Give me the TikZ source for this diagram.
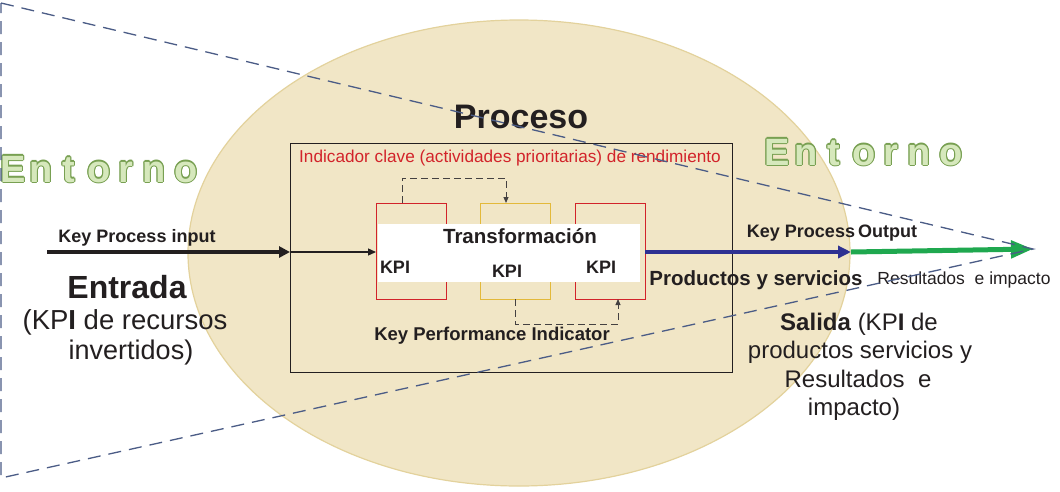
\documentclass[tikz,border=0pt]{standalone}
\usepackage{fontspec}
\setmainfont{Liberation Sans}
\usetikzlibrary{shapes.geometric,arrows.meta,calc}
\definecolor{ellfill}{HTML}{F1E6C6}
\definecolor{elldraw}{HTML}{E3D29C}
\definecolor{dashc}{HTML}{4B5C86}
\definecolor{kred}{HTML}{D2232A}
\definecolor{kyel}{HTML}{E3B93A}
\definecolor{outblue}{HTML}{2E3192}
\definecolor{outgreen}{HTML}{1FA84F}
\definecolor{txt}{HTML}{231F20}
\definecolor{edark}{HTML}{78A052}
\definecolor{elight}{HTML}{D6E8BC}
\newcommand{\fsz}[1]{\fontsize{#1}{#1}\selectfont}
\newcommand{\olt}[1]{\leavevmode
  \rlap{\color{edark}\kern-1.1pt #1}\rlap{\color{edark}\kern1.1pt #1}%
  \rlap{\color{edark}\raisebox{1.1pt}{#1}}\rlap{\color{edark}\raisebox{-1.1pt}{#1}}%
  \rlap{\color{edark}\kern-0.8pt\raisebox{0.8pt}{#1}}\rlap{\color{edark}\kern0.8pt\raisebox{0.8pt}{#1}}%
  \rlap{\color{edark}\kern-0.8pt\raisebox{-0.8pt}{#1}}\rlap{\color{edark}\kern0.8pt\raisebox{-0.8pt}{#1}}%
  {\color{elight}#1}}
\begin{document}
\begin{tikzpicture}[x=1pt,y=-1pt,
  every node/.style={inner sep=0pt, outer sep=0pt, text=txt},
  kbox/.style={line width=1pt, minimum width=70pt, minimum height=96pt},
  ent/.style={anchor=base, font=\bfseries\fsz{38}},
  lbl/.style={anchor=base},
  dconn/.style={draw=txt!85, line width=1pt, dash pattern=on 7pt off 4pt, -{Triangle[length=6pt,width=5pt]}},
  tri/.style={draw=dashc, line width=1.3pt, dash pattern=on 13pt off 8pt}]
\useasboundingbox (0,0) rectangle (1060,491);
\fill[white] (0,0) rectangle (1060,491);

% Entorno (left)
\node[ent] (eL1) at (13,182) {\olt{E}};
\node[ent] (eL2) at (41,182) {\olt{n}};
\node[ent] (eL3) at (69,182) {\olt{t}};
\node[ent] (eL4) at (99,182) {\olt{o}};
\node[ent] (eL5) at (126,182) {\olt{r}};
\node[ent] (eL6) at (154,182) {\olt{n}};
\node[ent] (eL7) at (186,182) {\olt{o}};

% ellipse
\node[ellipse, fill=ellfill, draw=elldraw, line width=1.2pt, minimum width=662pt, minimum height=466pt] (ell) at (519,253) {};

% Entorno (right)
\node[ent] (eR1) at (777,165) {\olt{E}};
\node[ent] (eR2) at (806,165) {\olt{n}};
\node[ent] (eR3) at (834,165) {\olt{t}};
\node[ent] (eR4) at (864,165) {\olt{o}};
\node[ent] (eR5) at (891,165) {\olt{r}};
\node[ent] (eR6) at (919,165) {\olt{n}};
\node[ent] (eR7) at (951,165) {\olt{o}};

% process box
\node[draw=txt, line width=0.8pt, minimum width=442pt, minimum height=229pt] (pbox) at (511,257.5) {};
\node[lbl, font=\bfseries\fsz{34}] (proc) at (521,128) {Proceso};
\node[lbl, text=kred, font=\fsz{17.2}] (ind) at (510,162) {Indicador clave (actividades prioritarias) de rendimiento};

% KPI boxes
\node[kbox, draw=kred] (bA) at (411,251) {};
\node[kbox, draw=kyel] (bB) at (515,251) {};
\node[kbox, draw=kred] (bC) at (610,251) {};
\node[fill=white, minimum width=262pt, minimum height=58pt] (wr) at (509,253) {};
\node[lbl, font=\bfseries\fsz{20.5}] (trans) at (520,243) {Transformación};
\node[lbl, font=\bfseries\fsz{18}] (kA) at (395,273) {KPI};
\node[lbl, font=\bfseries\fsz{18}] (kB) at (507,277) {KPI};
\node[lbl, font=\bfseries\fsz{18}] (kC) at (601,273) {KPI};
\node[lbl, font=\bfseries\fsz{18.5}] (kpi) at (492,340) {Key Performance Indicator};

% dashed feedback connectors
\draw[dconn] ($(bA.north)+(-9,0)$) -- ++(0,-25) -| ($(bB.north)+(-9,0)$);
\draw[dconn] (bB.south) -- ++(0,25) -| ($(bC.south)+(8,0)$);

% input
\coordinate (inS) at (47,252);
\draw[txt, line width=4pt, -{Triangle[length=11pt,width=11pt]}] (inS) -- (inS -| pbox.west);
\draw[txt, line width=1.3pt, -{Triangle[length=8pt,width=7pt]}] (inS -| pbox.west) -- (inS -| bA.west);
\node[lbl, font=\bfseries\fsz{18}] (kpin) at (137,242) {Key Process input};
\node[lbl, font=\bfseries\fsz{32}] (entr) at (127,298) {Entrada};
\node[lbl, font=\fsz{27.5}] (entr2) at (125,329) {(KP\textbf{I} de recursos};
\node[lbl, font=\fsz{27}] (entr3) at (131,359) {invertidos)};

% output
\coordinate (outM) at (851,252);
\coordinate (apex) at (1033,249);
\draw[outblue, line width=4pt, -{Triangle[length=13pt,width=12pt]}] (inS -| bC.east) -- (outM);
\draw[outgreen, line width=5pt, -{Triangle[length=22pt,width=17pt]}] (outM) -- (apex);
\node[lbl, font=\bfseries\fsz{18}] (kpout) at (832,237) {Key Process\,Output};
\node[lbl, font=\bfseries\fsz{20.5}] (prod) at (756,285) {Productos y servicios};
\node[lbl, font=\fsz{17.5}] (res) at (964,284) {Resultados\ \ e impacto};
\node[lbl, font=\fsz{24}] (sal1) at (859,330) {\textbf{Salida} (KP\textbf{I} de};
\node[lbl, font=\fsz{24}] (sal2) at (860,358) {productos servicios y};
\node[lbl, font=\fsz{24}] (sal3) at (858,387) {Resultados\ \ e};
\node[lbl, font=\fsz{24}] (sal4) at (854,415) {impacto)};

% dashed triangle (environment)
\coordinate (tl) at (1,3);
\coordinate (bl) at (1,478);
\draw[tri] (tl) -- (apex) -- (bl) -- cycle;
\end{tikzpicture}
\end{document}
